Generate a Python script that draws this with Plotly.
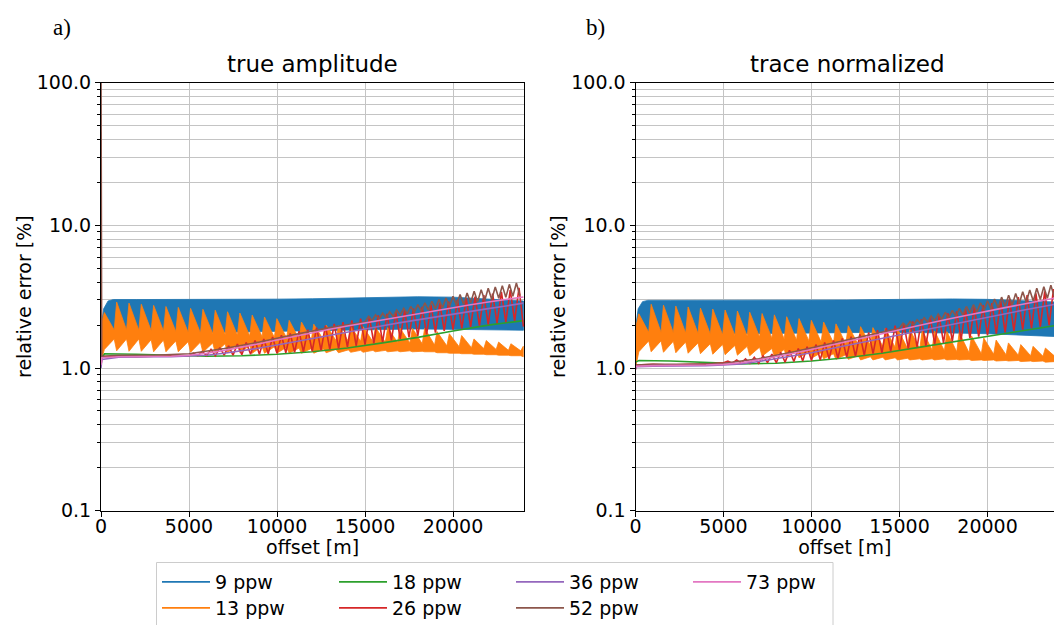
import plotly.graph_objects as go

# ---------------- data ----------------
# offsets [m]
blue_x = [0, 150, 400, 700, 2000, 5000, 8000, 10000, 12000, 14000, 16000, 18000, 20000, 21000, 22000, 23000, 24000]
blue_hi_ta = [1.9, 2.6, 2.95, 3.02, 3.02, 3.02, 3.03, 3.04, 3.06, 3.1, 3.14, 3.16, 3.14, 3.1, 3.05, 3.0, 2.95]
blue_lo_ta = [1.05, 1.5, 1.65, 1.7, 1.74, 1.77, 1.79, 1.8, 1.82, 1.84, 1.86, 1.88, 1.88, 1.87, 1.86, 1.85, 1.84]
blue_hi_tn = [1.9, 2.6, 2.92, 2.98, 2.98, 2.98, 2.98, 2.99, 3.0, 3.02, 3.04, 3.05, 3.03, 3.0, 2.97, 2.94, 2.9]
blue_lo_tn = [1.0, 1.4, 1.6, 1.68, 1.72, 1.75, 1.76, 1.76, 1.77, 1.78, 1.78, 1.76, 1.74, 1.72, 1.7, 1.68, 1.66]

orange_peak_x = [190, 890, 1590, 2290, 2990, 3690, 4390, 5090, 5790, 6490, 7190, 7890, 8590, 9290,
                 9990, 10690, 11390, 12090, 12790, 13490, 14190, 14890, 15590, 16290, 16990, 17690,
                 18390, 19090, 19790, 20490, 21190, 21890, 22590, 23290, 23990]
orange_trough_x = [750, 1450, 2150, 2850, 3550, 4250, 4950, 5650, 6350, 7050, 7750, 8450, 9150, 9850,
                   10550, 11250, 11950, 12650, 13350, 14050, 14750, 15450, 16150, 16850, 17550, 18250,
                   18950, 19650, 20350, 21050, 21750, 22450, 23150, 23850]
orange_start_ta = [2.0, 1.1]
orange_peak_ta = [2.45, 2.9, 2.85, 2.8, 2.75, 2.7, 2.66, 2.62, 2.58, 2.54, 2.48, 2.43, 2.35, 2.28, 2.22,
                  2.16, 2.1, 2.03, 2.0, 1.98, 1.96, 1.95, 1.93, 1.92, 1.9, 1.9, 1.9, 1.8, 1.74, 1.69,
                  1.6, 1.56, 1.52, 1.48, 1.42]
orange_base_ta = [1.35, 1.32, 1.31, 1.31, 1.3, 1.3, 1.3, 1.29, 1.29, 1.28, 1.28, 1.28, 1.27, 1.27, 1.27,
                  1.27, 1.27, 1.27, 1.28, 1.28, 1.29, 1.29, 1.3, 1.3, 1.3, 1.3, 1.3, 1.28, 1.27, 1.26,
                  1.25, 1.24, 1.23, 1.22, 1.2]
orange_thi_ta = [1.85, 1.85, 1.84, 1.83, 1.82, 1.8, 1.78, 1.76, 1.74, 1.72, 1.7, 1.68, 1.66, 1.64, 1.62,
                 1.6, 1.58, 1.57, 1.56, 1.55, 1.54, 1.53, 1.52, 1.51, 1.5, 1.48, 1.45, 1.43, 1.41, 1.39,
                 1.37, 1.35, 1.33, 1.32]
orange_tlo_ta = [1.6, 1.6, 1.6, 1.58, 1.57, 1.55, 1.53, 1.52, 1.5, 1.48, 1.46, 1.44, 1.42, 1.41, 1.4,
                 1.38, 1.37, 1.36, 1.35, 1.34, 1.33, 1.33, 1.33, 1.32, 1.32, 1.31, 1.3, 1.28, 1.27, 1.26,
                 1.25, 1.24, 1.23, 1.22]
orange_start_tn = [1.9, 1.0]
orange_peak_tn = [2.4, 2.8, 2.76, 2.72, 2.68, 2.63, 2.59, 2.55, 2.51, 2.46, 2.41, 2.36, 2.29, 2.22, 2.16,
                  2.1, 2.04, 1.98, 1.95, 1.92, 1.9, 1.88, 1.86, 1.84, 1.82, 1.8, 1.78, 1.68, 1.62, 1.57,
                  1.5, 1.46, 1.42, 1.38, 1.34]
orange_base_tn = [1.3, 1.3, 1.29, 1.28, 1.27, 1.26, 1.25, 1.24, 1.23, 1.22, 1.21, 1.2, 1.19, 1.18, 1.17,
                  1.16, 1.15, 1.15, 1.14, 1.14, 1.14, 1.14, 1.14, 1.14, 1.14, 1.14, 1.14, 1.13, 1.13, 1.12,
                  1.12, 1.11, 1.11, 1.1, 1.1]
orange_thi_tn = [1.78, 1.78, 1.77, 1.76, 1.75, 1.73, 1.71, 1.69, 1.67, 1.65, 1.62, 1.6, 1.57, 1.55, 1.52,
                 1.5, 1.48, 1.46, 1.44, 1.42, 1.4, 1.38, 1.36, 1.34, 1.32, 1.3, 1.28, 1.26, 1.25, 1.24,
                 1.23, 1.22, 1.21, 1.2]
orange_tlo_tn = [1.55, 1.55, 1.54, 1.52, 1.5, 1.48, 1.46, 1.44, 1.42, 1.4, 1.37, 1.35, 1.32, 1.3, 1.28,
                 1.26, 1.24, 1.22, 1.2, 1.19, 1.18, 1.17, 1.16, 1.16, 1.16, 1.15, 1.15, 1.14, 1.14, 1.13,
                 1.13, 1.12, 1.12, 1.11]

green_x = [0, 200, 2000, 4000, 6000, 8000, 10000, 12000, 14000, 16000, 18000, 20000, 22000, 24000]
green_ta = [1.15, 1.26, 1.25, 1.23, 1.21, 1.22, 1.25, 1.3, 1.38, 1.5, 1.64, 1.82, 2.0, 2.15]
green_tn = [1.1, 1.13, 1.12, 1.09, 1.07, 1.08, 1.12, 1.18, 1.27, 1.39, 1.52, 1.66, 1.82, 2.0]

red_lead_x = [0, 60, 1000, 2000, 3000, 4000]
red_lead_ta = [1.05, 1.2, 1.21, 1.2, 1.21, 1.21]
red_lead_tn = [0.98, 1.05, 1.06, 1.05, 1.06, 1.06]
red_trough_x = [5000, 5500, 6000, 6500, 7000, 7500, 8000, 8500, 9000, 9500, 10000, 10500, 11000, 11500,
                12000, 12500, 13000, 13500, 14000, 14500, 15000, 15500, 16000, 16500, 17000, 17500,
                18000, 18500, 19000, 19500, 20000, 20500, 21000, 21500, 22000, 22500, 23000, 23500, 24000]
red_peak_x = [5250, 5750, 6250, 6750, 7250, 7750, 8250, 8750, 9250, 9750, 10250, 10750, 11250, 11750,
              12250, 12750, 13250, 13750, 14250, 14750, 15250, 15750, 16250, 16750, 17250, 17750,
              18250, 18750, 19250, 19750, 20250, 20750, 21250, 21750, 22250, 22750, 23250, 23750]
red_trough_ta = [1.22, 1.22, 1.22, 1.22, 1.23, 1.23, 1.24, 1.25, 1.25, 1.26, 1.27, 1.28, 1.29, 1.3, 1.31,
                 1.33, 1.35, 1.37, 1.4, 1.43, 1.46, 1.49, 1.52, 1.56, 1.6, 1.64, 1.68, 1.72, 1.77, 1.82,
                 1.86, 1.9, 1.94, 1.98, 2.02, 2.06, 2.1, 2.14, 1.95]
red_peak_ta = [1.27, 1.31, 1.35, 1.39, 1.43, 1.47, 1.51, 1.56, 1.6, 1.65, 1.7, 1.75, 1.81, 1.86, 1.92,
               1.98, 2.04, 2.1, 2.16, 2.22, 2.28, 2.34, 2.4, 2.47, 2.54, 2.61, 2.68, 2.76, 2.84, 2.92,
               3.0, 3.08, 3.16, 3.24, 3.32, 3.42, 3.52, 3.65]
red_trough_tn = [1.09, 1.08, 1.08, 1.08, 1.08, 1.09, 1.09, 1.1, 1.11, 1.12, 1.13, 1.14, 1.16, 1.17, 1.19,
                 1.21, 1.23, 1.26, 1.28, 1.31, 1.34, 1.37, 1.4, 1.43, 1.47, 1.5, 1.54, 1.58, 1.62, 1.66,
                 1.7, 1.74, 1.78, 1.82, 1.86, 1.9, 1.95, 2.0, 1.85]
red_peak_tn = [1.12, 1.14, 1.16, 1.19, 1.22, 1.25, 1.29, 1.33, 1.37, 1.41, 1.46, 1.51, 1.56, 1.61, 1.66,
               1.72, 1.78, 1.84, 1.91, 1.98, 2.05, 2.12, 2.19, 2.26, 2.34, 2.42, 2.5, 2.58, 2.67, 2.76,
               2.85, 2.94, 3.04, 3.14, 3.24, 3.34, 3.45, 3.57]

line_x = [0, 50, 1000, 2000, 3000, 4000, 5000, 6000, 7000, 8000, 9000, 10000, 11000, 12000, 13000,
          14000, 15000, 16000, 17000, 18000, 19000, 20000, 21000, 22000, 23000, 24000]
purple_ta = [1.0, 1.15, 1.19, 1.2, 1.2, 1.2, 1.21, 1.23, 1.27, 1.32, 1.38, 1.45, 1.53, 1.61, 1.7, 1.79,
             1.88, 1.98, 2.08, 2.18, 2.28, 2.39, 2.5, 2.61, 2.72, 2.85]
purple_tn = [0.98, 1.02, 1.03, 1.03, 1.03, 1.04, 1.05, 1.07, 1.11, 1.16, 1.22, 1.28, 1.36, 1.44, 1.53,
             1.62, 1.72, 1.82, 1.93, 2.04, 2.16, 2.28, 2.41, 2.54, 2.68, 2.82]
pink_ta = [1.05, 1.18, 1.2, 1.2, 1.2, 1.21, 1.23, 1.27, 1.33, 1.4, 1.48, 1.57, 1.67, 1.77, 1.87, 1.97,
           2.07, 2.18, 2.3, 2.42, 2.54, 2.66, 2.78, 2.9, 3.03, 3.15]
pink_tn = [1.0, 1.03, 1.04, 1.04, 1.04, 1.05, 1.06, 1.09, 1.14, 1.2, 1.27, 1.35, 1.44, 1.53, 1.63, 1.74,
           1.86, 1.98, 2.1, 2.23, 2.37, 2.51, 2.65, 2.8, 2.96, 3.12]

brown_lead_x = [0, 40, 1000, 3000, 5000, 7000, 9000, 11000, 13000, 14000]
brown_lead_ta = [150, 1.21, 1.23, 1.23, 1.26, 1.37, 1.52, 1.72, 1.92, 2.02]
brown_lead_tn = [1.0, 1.05, 1.06, 1.06, 1.08, 1.16, 1.3, 1.48, 1.68, 1.78]
brown_trough_x = [15000, 15400, 15800, 16200, 16600, 17000, 17400, 17800, 18200, 18600, 19000, 19400,
                  19800, 20200, 20600, 21000, 21400, 21800, 22200, 22600, 23000, 23400, 23800]
brown_peak_x = [15200, 15600, 16000, 16400, 16800, 17200, 17600, 18000, 18400, 18800, 19200, 19600,
                20000, 20400, 20800, 21200, 21600, 22000, 22400, 22800, 23200, 23600]
brown_trough_ta = [2.1, 2.15, 2.2, 2.25, 2.3, 2.35, 2.4, 2.45, 2.5, 2.55, 2.6, 2.65, 2.7, 2.75, 2.8,
                   2.86, 2.92, 2.97, 3.02, 3.08, 3.13, 3.18, 3.22]
brown_peak_ta = [2.3, 2.36, 2.42, 2.48, 2.55, 2.62, 2.7, 2.78, 2.86, 2.94, 3.02, 3.1, 3.18, 3.27, 3.36,
                 3.45, 3.54, 3.62, 3.7, 3.78, 3.86, 3.94]
brown_trough_tn = [1.9, 1.95, 2.0, 2.04, 2.09, 2.14, 2.19, 2.24, 2.3, 2.36, 2.42, 2.47, 2.53, 2.59, 2.64,
                   2.7, 2.76, 2.82, 2.89, 2.95, 3.02, 3.08, 3.15]
brown_peak_tn = [2.06, 2.12, 2.18, 2.25, 2.32, 2.39, 2.46, 2.54, 2.62, 2.7, 2.78, 2.87, 2.96, 3.05, 3.14,
                 3.24, 3.33, 3.43, 3.52, 3.62, 3.71, 3.8]

series_names = ["9 ppw", "13 ppw", "18 ppw", "26 ppw", "36 ppw", "52 ppw", "73 ppw"]
panel_titles = ["true amplitude", "trace normalized"]
panel_labels = ["a)", "b)"]
x_ticks = [0, 5000, 10000, 15000, 20000]
x_tick_text = ["0", "5000", "10000", "15000", "20000"]
y_major = [0.1, 1, 10, 100]
y_major_text = ["0.1", "1.0", "10.0", "100.0"]
y_minor = [m * d for d in (0.1, 1, 10) for m in range(2, 10)]

# ---------------- styling ----------------
COLORS = ["#1f77b4", "#ff7f0e", "#2ca02c", "#d62728", "#9467bd", "#8c564b", "#e377c2"]
FONT = "DejaVu Sans"
W, H = 1054, 625


def interleave(xa, ya, xb, yb):
    xs, ys = [], []
    for i in range(len(xa)):
        xs.append(xa[i]); ys.append(ya[i])
        if i < len(xb):
            xs.append(xb[i]); ys.append(yb[i])
    return xs, ys


def orange_polygon(start, peak, base, thi, tlo):
    ux, uy = interleave(orange_peak_x, peak, orange_trough_x, thi)
    lx, ly = interleave(orange_peak_x, base, orange_trough_x, tlo)
    xs = [0] + ux + lx[::-1] + [0]
    ys = [start[0]] + uy + ly[::-1] + [start[1]]
    return xs, ys


panels = [
    dict(blue=(blue_hi_ta, blue_lo_ta),
         orange=(orange_start_ta, orange_peak_ta, orange_base_ta, orange_thi_ta, orange_tlo_ta),
         green=green_ta, red=(red_lead_ta, red_trough_ta, red_peak_ta),
         purple=purple_ta, brown=(brown_lead_ta, brown_trough_ta, brown_peak_ta), pink=pink_ta),
    dict(blue=(blue_hi_tn, blue_lo_tn),
         orange=(orange_start_tn, orange_peak_tn, orange_base_tn, orange_thi_tn, orange_tlo_tn),
         green=green_tn, red=(red_lead_tn, red_trough_tn, red_peak_tn),
         purple=purple_tn, brown=(brown_lead_tn, brown_trough_tn, brown_peak_tn), pink=pink_tn),
]

fig = go.Figure()
LW = 1.6
for p, d in enumerate(panels):
    xa = "x" if p == 0 else "x2"
    ya = "y" if p == 0 else "y2"
    # 9 ppw - dense oscillation band
    hi, lo = d["blue"]
    fig.add_trace(go.Scatter(x=blue_x + blue_x[::-1], y=hi + lo[::-1], fill="toself",
                             fillcolor=COLORS[0], mode="lines", line=dict(color=COLORS[0], width=0.8),
                             xaxis=xa, yaxis=ya, showlegend=False, hoverinfo="skip"))
    # 13 ppw - saw-tooth band
    ox, oy = orange_polygon(*d["orange"])
    fig.add_trace(go.Scatter(x=ox, y=oy, fill="toself", fillcolor=COLORS[1], mode="lines",
                             line=dict(color=COLORS[1], width=0.8), xaxis=xa, yaxis=ya,
                             showlegend=False, hoverinfo="skip"))
    # 18 ppw
    fig.add_trace(go.Scatter(x=green_x, y=d["green"], mode="lines", line=dict(color=COLORS[2], width=LW),
                             xaxis=xa, yaxis=ya, showlegend=False))
    # 26 ppw
    lead, tr, pk = d["red"]
    zx, zy = interleave(red_trough_x, tr, red_peak_x, pk)
    fig.add_trace(go.Scatter(x=red_lead_x + zx, y=lead + zy, mode="lines",
                             line=dict(color=COLORS[3], width=LW), xaxis=xa, yaxis=ya, showlegend=False))
    # 36 ppw
    fig.add_trace(go.Scatter(x=line_x, y=d["purple"], mode="lines", line=dict(color=COLORS[4], width=LW),
                             xaxis=xa, yaxis=ya, showlegend=False))
    # 52 ppw
    lead, tr, pk = d["brown"]
    zx, zy = interleave(brown_trough_x, tr, brown_peak_x, pk)
    fig.add_trace(go.Scatter(x=brown_lead_x + zx, y=lead + zy, mode="lines",
                             line=dict(color=COLORS[5], width=LW), xaxis=xa, yaxis=ya, showlegend=False))
    # 73 ppw
    fig.add_trace(go.Scatter(x=line_x, y=d["pink"], mode="lines", line=dict(color=COLORS[6], width=LW),
                             xaxis=xa, yaxis=ya, showlegend=False))

# legend entries: two horizontal rows (matplotlib ncol=4, column-major order)
legend_of = ["legend", "legend2", "legend", "legend2", "legend", "legend2", "legend"]
for name, col, lg in zip(series_names, COLORS, legend_of):
    fig.add_trace(go.Scatter(x=[None], y=[None], mode="lines", name=name,
                             line=dict(color=col, width=1.6), legend=lg, showlegend=True))

axis_font = dict(family=FONT, size=19, color="black")
grid = "#c4c4c4"
common_x = dict(showline=True, linecolor="black", linewidth=1, mirror=True, ticks="outside",
                ticklen=5, tickcolor="black", tickvals=x_ticks, ticktext=x_tick_text,
                ticklabelstandoff=-7, showgrid=True, gridcolor=grid, automargin=False,
                gridwidth=1, zeroline=False, tickfont=axis_font,
                title=dict(text="offset [m]", font=axis_font, standoff=5))
common_y = dict(type="log", range=[-1, 2], showline=True, linecolor="black", linewidth=1,
                ticks="outside", ticklen=5, tickcolor="black", tickvals=y_major, ticktext=y_major_text,
                showgrid=True, gridcolor=grid, gridwidth=1, tickfont=axis_font, zeroline=False,
                automargin=False,
                minor=dict(tickmode="array", tickvals=y_minor, showgrid=True, gridcolor=grid,
                           gridwidth=1, ticks="outside", ticklen=3, tickcolor="black"),
                title=dict(text="relative error [%]", font=axis_font, standoff=0))

y_dom = [1 - 510.7 / H, 1 - 82.7 / H]
fig.update_layout(
    width=W, height=H, margin=dict(l=0, r=0, t=0, b=0, autoexpand=False),
    paper_bgcolor="white", plot_bgcolor="white",
    font=dict(family=FONT, color="black"),
    xaxis=dict(domain=[101 / W, 524.3 / W], range=[0, 24050], anchor="y", **common_x),
    yaxis=dict(domain=y_dom, anchor="x", mirror=True, **common_y),
    xaxis2=dict(domain=[635.5 / W, 1.0], range=[0, 23778], anchor="y2", **common_x),
    yaxis2=dict(domain=y_dom, anchor="x2", mirror=False, **common_y),
)

leg_common = dict(orientation="h", xanchor="left", yanchor="top", bgcolor="rgba(0,0,0,0)",
                  font=dict(family=FONT, size=19, color="black"), itemwidth=48,
                  entrywidth=114, entrywidthmode="pixels", x=157 / W)
fig.update_layout(
    legend=dict(y=1 - 563 / H, **leg_common),
    legend2=dict(y=1 - 589 / H, **leg_common),
)

fig.add_shape(type="rect", xref="paper", yref="paper", x0=156.5 / W, x1=833 / W,
              y0=-0.05, y1=1 - 562.5 / H, line=dict(color="#cccccc", width=1),
              fillcolor="rgba(255,255,255,0.8)", layer="below")

for i, (t, lab) in enumerate(zip(panel_titles, panel_labels)):
    cx = (101 + 524.3) / 2 / W if i == 0 else (635.5 + 1059) / 2 / W
    fig.add_annotation(text=t, x=cx, y=1 - 79 / H, xref="paper", yref="paper", xanchor="center",
                       yanchor="bottom", showarrow=False, font=dict(family=FONT, size=23, color="black"))
    lx = 62 / W if i == 0 else 595 / W
    fig.add_annotation(text=lab, x=lx, y=1 - 27 / H, xref="paper", yref="paper", xanchor="center",
                       yanchor="middle", showarrow=False,
                       font=dict(family="Liberation Serif", size=23, color="black"))

fig.write_html("out.html")
